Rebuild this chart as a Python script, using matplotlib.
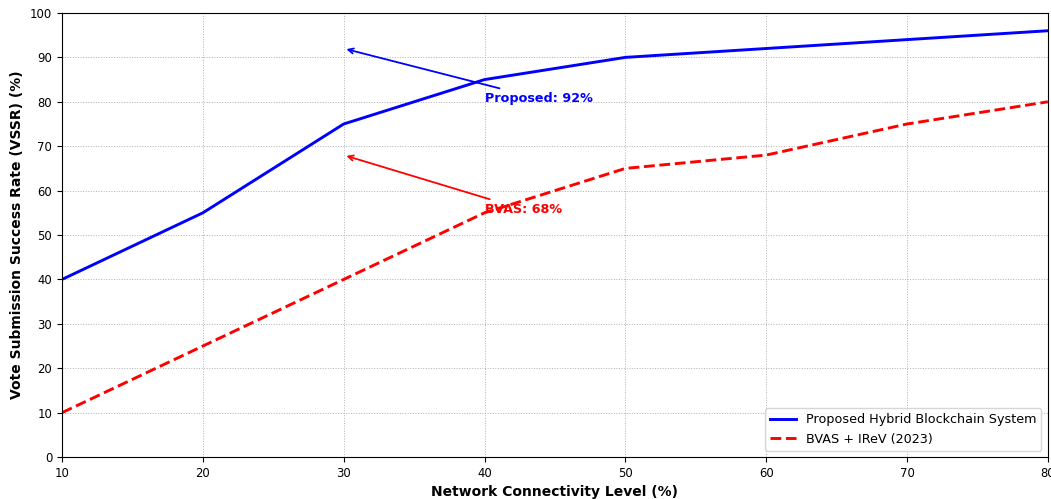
import matplotlib
matplotlib.use("Agg")
import matplotlib.pyplot as plt

# Network connectivity levels (%)
connectivity = [10, 20, 30, 40, 50, 60, 70, 80]

# Vote submission success rates (%)
proposed_vssr = [40, 55, 75, 85, 90, 92, 94, 96]
bvas_vssr = [10, 25, 40, 55, 65, 68, 75, 80]

fig, ax = plt.subplots(figsize=(10.51, 4.99), dpi=100)
fig.subplots_adjust(left=0.059, right=0.997, top=0.974, bottom=0.084)

ax.plot(connectivity, proposed_vssr, color="blue", linewidth=2.1,
        label="Proposed Hybrid Blockchain System")
ax.plot(connectivity, bvas_vssr, color="red", linewidth=2.1, linestyle="--",
        label="BVAS + IReV (2023)")

# Annotations
ax.annotate("Proposed: 92%", xy=(30, 92), xytext=(40, 80),
            color="blue", fontsize=9.2, fontweight="bold",
            arrowprops=dict(arrowstyle="->", color="blue", lw=1.3))
ax.annotate("BVAS: 68%", xy=(30, 68), xytext=(40, 55),
            color="red", fontsize=9.2, fontweight="bold",
            arrowprops=dict(arrowstyle="->", color="red", lw=1.3))

ax.set_xlim(10, 80)
ax.set_ylim(0, 100)
ax.set_yticks(range(0, 101, 10))
ax.tick_params(labelsize=8.4)
ax.set_xlabel("Network Connectivity Level (%)", fontsize=10, fontweight="bold")
ax.set_ylabel("Vote Submission Success Rate (VSSR) (%)", fontsize=10, fontweight="bold")
ax.grid(True, linestyle=":", color="#b0b0b0", linewidth=0.7)
ax.legend(loc="lower right", fontsize=9.2)

plt.savefig("out.png")
